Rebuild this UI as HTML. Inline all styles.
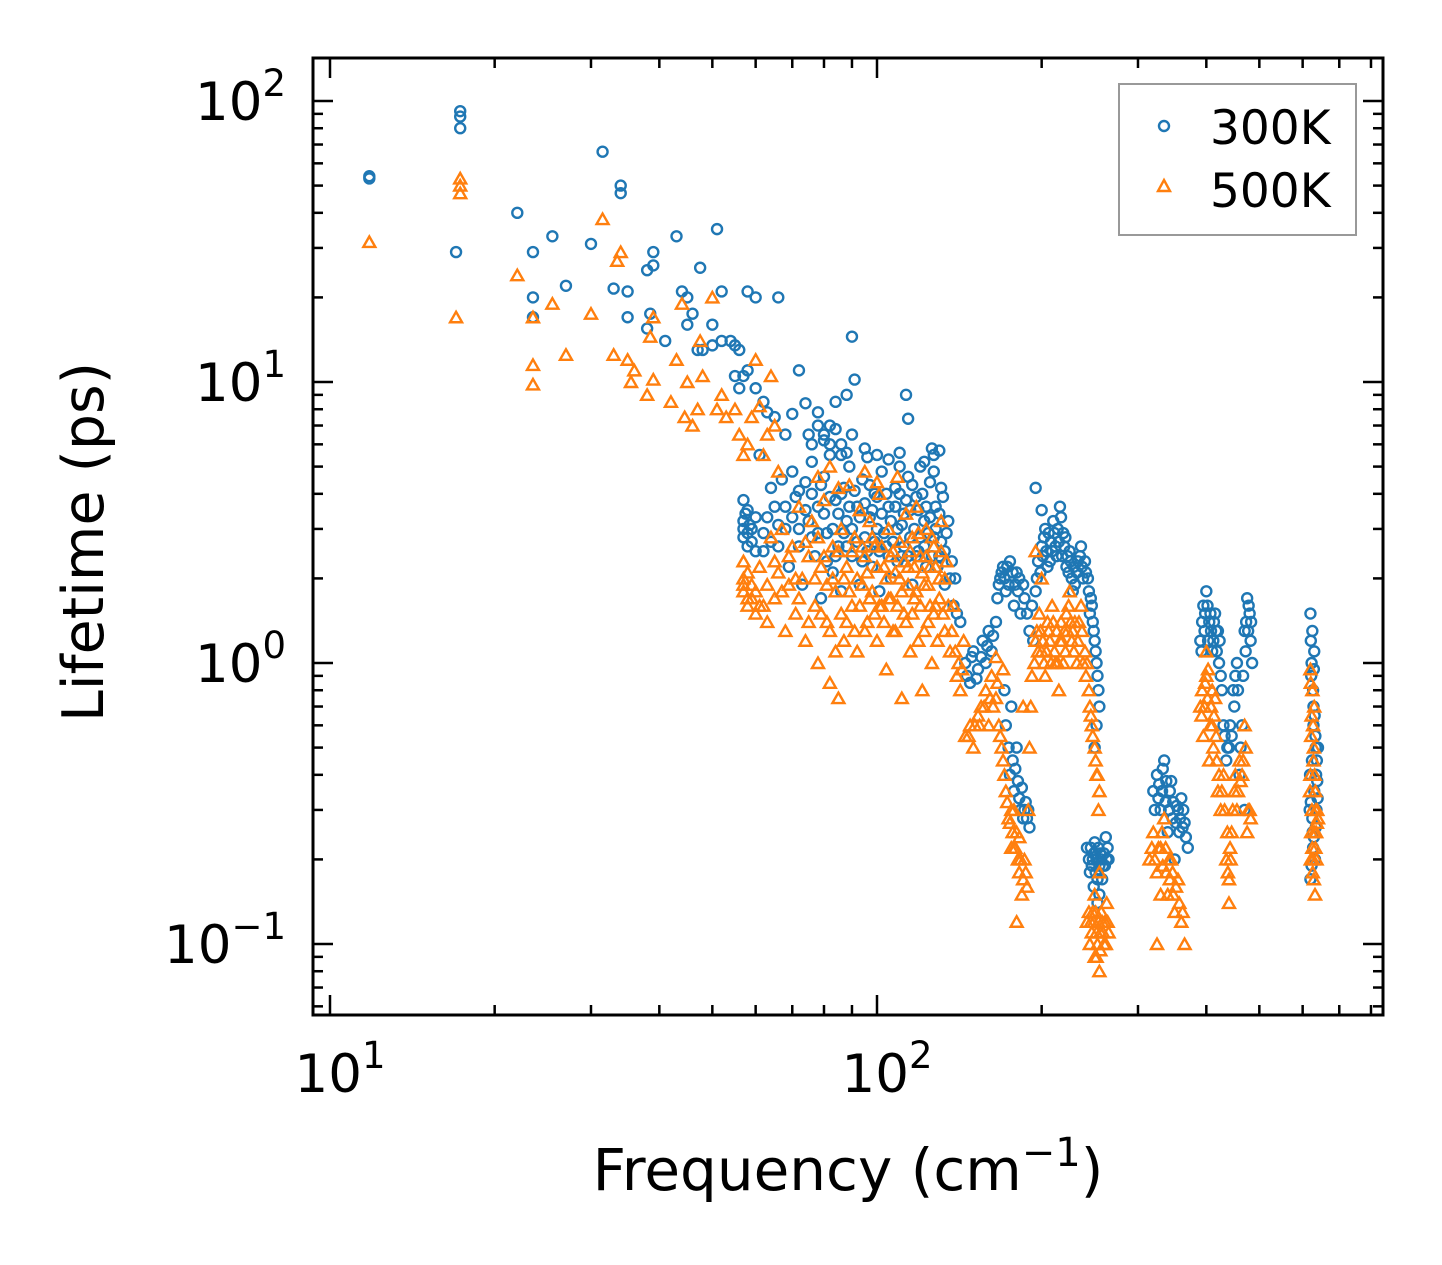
<!DOCTYPE html>
<html><head><meta charset="utf-8"><style>
html,body{margin:0;padding:0;background:#fff;}
svg{display:block;font-family:"DejaVu Sans","Liberation Sans",sans-serif;}
</style></head><body>
<svg id="chart" width="1442" height="1265" viewBox="0 0 1442 1265">
<rect width="1442" height="1265" fill="#fff"/>
<g id="marks"></g>
<g id="axes"></g>
<rect x="313" y="58" width="1070" height="957" fill="none" stroke="#000" stroke-width="3"/>
<text x="848" y="1190" font-size="58" text-anchor="middle">Frequency (cm<tspan dy="-24" font-size="40">−1</tspan><tspan dy="24">)</tspan></text>
<text transform="translate(103,542) rotate(-90)" font-size="57" text-anchor="middle">Lifetime (ps)</text>
<g>
<rect x="1119" y="84" width="237" height="151" fill="#fff" stroke="#999" stroke-width="2"/>
<circle cx="1164" cy="126" r="5" fill="none" stroke="#1f77b4" stroke-width="2.4"/>
<text x="1210" y="144" font-size="47">300K</text>
<path d="M1164,180 L1170,191 L1158,191 Z" fill="none" stroke="#ff7f0e" stroke-width="2.4"/>
<text x="1210" y="207" font-size="47">500K</text>
</g>
</svg>
<script>
const blue300K = [
[11.8,54],[11.8,53],[17.3,92],[17.3,88],[17.3,80],[17,29],[22,40],[23.5,29],[23.5,20],[23.5,17],[25.5,33],[27,22],[30,31],[31.5,66],[33,21.5],[34,47],[34,50],[35,21],[35,17],[38,25],[38.5,17.5],[39,29],[39,26],[38,15.5],[41,14],[43,33],[44,21],[45,20],[45,16],[46,17.5],[47,13],[47.5,25.5],[48,13],[50,13.5],[50,16],[51,35],[52,14],[52,21],[54,14],[55,13.5],[56,13],[55,10.5],[56,9.5],[57,10.5],[58,11],[60,9.5],[58,21],[60,20],[62,8.5],[63,7.8],[65,7.5],[66,20],[68,6.5],[70,7.7],[72,11],[74,8.4],[76,6],[78,7.8],[80,6.5],[82,6],[84,8.5],[86,5.5],[90,14.5],[91,10.2],[88,9],
[57,3.8],[57,3.2],[57,2.8],[58,3.5],[58,2.6],[59,3.0],[60,2.5],[61,5.5],[62,2.9],[63,3.3],[64,4.2],[65,3.6],[66,2.6],[67,4.5],[68,3.0],[69,2.2],[70,4.8],[71,3.9],[72,2.6],[73,1.9],[74,4.4],[75,3.2],[76,5.2],[77,2.4],[78,3.6],[79,1.7],[80,4.6],[81,2.9],[82,5.5],[83,2.1],[84,3.8],[85,2.6],[86,1.8],[87,4.2],[88,3.2],[89,5.0],[90,2.4],[92,3.6],[93,1.9],[94,4.5],[95,2.8],[96,5.4],[97,3.3],[98,2.2],[99,4.0],[100,3.0],[101,1.8],[102,4.8],[104,2.6],[105,3.6],[106,2.0],[108,4.2],[109,3.0],[110,5.6],[111,2.4],[112,3.4],[114,4.6],[115,2.8],[116,1.9],[118,3.9],[119,2.5],[120,5.0],[122,3.2],[123,2.2],[125,4.4],[126,5.8],[127,2.8],[128,3.6],[130,2.4],[131,4.2],[133,1.9],[134,2.9],[136,2.0],[138,1.6],[140,1.5],[142,1.4],
[57,3.0],[57.5,3.4],[58,2.9],[58.5,3.1],[59,2.7],[60,3.3],[62,2.5],[64,2.7],[66,3.1],[68,3.6],[70,3.3],[72,3.0],[72,4.1],[74,3.5],[76,2.8],[76,4.0],[78,2.9],[79,4.3],[80,3.4],[81,2.3],[82,3.9],[83,3.0],[84,2.4],[85,3.4],[86,4.0],[87,2.9],[88,2.6],[89,3.6],[90,3.0],[91,4.1],[92,2.7],[93,3.3],[94,2.3],[95,3.7],[96,2.5],[97,4.3],[98,3.5],[99,2.7],[100,3.9],[101,2.5],[102,3.4],[103,2.9],[104,4.0],[105,2.4],[106,3.2],[107,2.7],[108,3.6],[109,2.3],[110,4.0],[111,3.1],[112,2.6],[113,3.8],[114,2.4],[115,3.5],[116,4.3],[117,3.0],[118,2.4],[119,3.5],[120,2.8],[121,4.0],[122,2.6],[123,3.6],[124,2.9],[125,3.3],[126,2.4],[127,4.8],[128,3.0],[129,2.2],[130,3.4],[131,2.7],[132,3.9],[133,2.5],[135,3.2],[137,2.3],[139,2.0],
[75,6.5],[78,7],[80,6.2],[82,7],[84,6.8],[86,6],[88,5.6],[90,6.5],[95,5.8],[100,5.5],[105,5.3],[110,5.0],[113,9],[114,7.4],[122,5.2],[127,5.5],[130,5.7],
[145,1.0],[148,0.85],[150,1.1],[153,0.95],[156,1.2],[158,1.0],[160,1.3],[162,1.1],[165,1.4],[168,2.0],[170,2.2],[172,1.8],[175,2.3],[178,1.6],[180,2.1],[183,1.5],[186,1.7],[190,1.3],[193,1.2],[196,2.0],[200,2.6],[203,3.0],[205,2.2],[208,2.7],[210,3.2],[213,2.4],[216,3.6],[219,2.9],[222,2.2],[225,2.5],[228,1.8],[232,2.1],[236,2.6],[240,2.3],[243,2.0],[246,1.7],[248,1.4],[250,1.2],[252,1.0],[195,4.2],[200,3.5],
[146,0.9],[149,1.05],[152,0.88],[155,1.05],[159,1.15],[163,1.25],[166,1.7],[167,1.9],[169,2.1],[171,2.0],[173,2.2],[174,1.9],[177,2.1],[179,1.9],[181,1.8],[182,2.0],[185,1.9],[188,1.5],[192,1.6],[195,1.8],[197,2.3],[199,2.1],[201,2.4],[202,2.8],[204,2.5],[206,2.9],[207,2.3],[209,2.5],[211,2.9],[212,2.6],[214,3.0],[215,2.7],[217,3.3],[218,2.4],[220,2.6],[221,2.8],[223,2.4],[224,2.1],[226,2.3],[227,2.0],[229,2.2],[230,1.9],[233,2.3],[235,2.4],[237,2.2],[238,2.0],[241,2.1],[244,1.8],[245,1.5],[247,1.6],[249,1.3],[251,1.1],[253,0.9],[254,0.8],[255,0.7],
[175,0.4],[178,0.35],[180,0.5],[183,0.3],[185,0.28],[187,0.32],[190,0.26],[172,0.6],[176,0.7],[174,0.5],[177,0.45],[179,0.42],[181,0.38],[182,0.33],[184,0.36],[186,0.3],[188,0.28],[189,0.3],[171,0.8],
[242,0.22],[245,0.18],[248,0.2],[250,0.23],[253,0.17],[256,0.21],[259,0.19],[262,0.24],[265,0.2],[255,0.15],[250,0.5],[252,0.6],[244,0.2],[246,0.22],[247,0.19],[249,0.21],[251,0.18],[252,0.2],[254,0.22],[255,0.19],[257,0.2],[258,0.17],[260,0.21],[261,0.19],[263,0.2],[264,0.22],[249,0.16],[253,0.14],
[320,0.35],[325,0.4],[330,0.3],[335,0.45],[340,0.25],[345,0.38],[350,0.2],[355,0.3],[360,0.33],[365,0.27],[370,0.22],[322,0.3],[327,0.33],[328,0.37],[332,0.35],[333,0.42],[337,0.32],[338,0.38],[342,0.3],[343,0.35],[347,0.28],[348,0.32],[352,0.27],[353,0.31],[357,0.25],[358,0.28],[362,0.26],[363,0.3],[367,0.24],
[390,1.2],[395,1.6],[400,1.8],[405,1.4],[410,1.1],[415,1.5],[420,1.3],[425,0.9],[430,0.6],[435,0.45],[440,0.5],[450,0.7],[455,1.0],[460,0.4],[465,0.6],[470,1.3],[475,1.7],[480,1.5],[485,1.0],[470,0.3],
[392,1.1],[393,1.4],[397,1.3],[398,1.5],[402,1.6],[403,1.2],[407,1.5],[408,1.3],[412,1.2],[413,1.4],[417,1.3],[418,1.1],[422,1.0],[423,1.2],[427,0.8],[432,0.55],[437,0.5],[442,0.6],[445,0.55],[448,0.8],[452,0.9],[457,0.8],[462,0.5],[467,0.9],[472,1.1],[473,1.4],[477,1.3],[478,1.6],[482,1.2],[483,1.4],
[620,1.5],[625,1.3],[630,1.1],[622,0.9],[628,0.7],[633,0.55],[624,0.45],[630,0.35],[636,0.3],[626,0.25],[632,0.2],[620,0.17],[635,0.4],[640,0.5],[628,0.6],
[621,1.2],[623,1.0],[627,0.8],[629,0.95],[631,0.65],[634,0.5],[637,0.45],[638,0.38],[621,0.32],[625,0.28],[627,0.22],[634,0.26],[639,0.33],[623,0.19],[629,0.24],[619,0.4],[618,0.3]
];
const orange500K = [
[11.8,31.5],[17.3,53],[17.3,50],[17.3,47],[17,17],[22,24],[23.5,17],[23.5,11.5],[23.5,9.8],[25.5,19],[27,12.5],[30,17.5],[31.5,38],[33,12.5],[33.5,27],[34,29],[35,12],[35.5,10],[36,11],[38,9],[38.5,14.5],[39,10.2],[39,17],[42,8.5],[43,12],[44,19],[44.5,7.5],[45,10],[46,7],[47,8],[47.5,14],[48,10.5],[50,20],[51,8],[52,9],[53,7.5],[55,8],[56,6.5],[57,5.5],[58,6],[59,7.5],[60,12],[61,8.2],[62,5.5],[63,6.5],[64,10.5],[65,7],[66,4.8],
[57,2.3],[57,2.0],[57,1.8],[58,1.7],[58,1.6],[59,1.9],[60,1.5],[61,2.2],[62,1.6],[63,1.4],[64,2.8],[65,1.7],[66,2.1],[67,3.0],[68,1.3],[69,1.9],[70,2.6],[71,1.5],[72,3.6],[73,2.0],[74,1.2],[75,2.4],[76,3.2],[77,1.6],[78,1.0],[79,2.2],[80,3.8],[81,1.4],[82,0.85],[83,2.6],[84,1.8],[85,0.75],[86,3.0],[87,1.2],[88,2.2],[89,4.3],[90,1.6],[91,2.8],[92,1.1],[93,3.5],[94,1.9],[95,2.4],[96,1.4],[97,3.2],[98,1.8],[99,2.6],[100,1.2],[101,4.0],[102,1.6],[103,2.2],[104,0.95],[105,3.0],[106,1.7],[107,2.5],[108,1.3],[109,4.6],[110,2.0],[111,0.75],[112,1.5],[113,3.4],[114,2.2],[115,1.1],[116,2.8],[117,1.7],[118,3.6],[119,1.2],[120,2.4],[121,0.8],[122,1.9],[123,3.0],[124,1.4],[125,2.2],[126,1.0],[127,2.6],[128,1.6],[130,2.0],[131,3.2],[133,1.3],[134,2.3],[136,1.1],[138,1.6],[140,0.9],[142,0.8],[144,1.2],[78,4.6],[82,5.0],[85,4.2],[95,4.8],[100,4.4],
[57,1.9],[58,2.1],[59,1.7],[60,1.8],[61,1.6],[63,1.9],[65,2.3],[67,1.8],[69,2.4],[71,2.0],[72,1.7],[74,2.7],[75,1.4],[77,2.0],[78,2.8],[79,1.5],[80,2.4],[81,1.9],[82,1.3],[83,2.0],[84,1.1],[85,2.5],[86,1.5],[87,2.0],[88,1.4],[89,1.8],[90,2.5],[91,1.3],[92,2.0],[93,1.6],[94,2.6],[95,1.3],[96,2.1],[97,1.7],[98,2.8],[99,1.5],[100,2.2],[101,1.6],[102,2.6],[103,1.4],[104,2.0],[105,1.7],[106,2.4],[107,1.3],[108,2.1],[109,1.6],[110,2.7],[111,1.8],[112,2.3],[113,1.4],[114,1.9],[115,2.5],[116,1.5],[117,2.2],[118,1.8],[119,2.9],[120,1.6],[121,2.1],[122,1.3],[123,2.4],[124,1.9],[125,1.6],[126,2.8],[127,1.5],[128,2.2],[129,1.2],[130,1.7],[131,2.5],[132,1.5],[133,2.0],[135,1.6],[137,1.3],[139,1.1],[141,1.0],[143,0.95],
[145,0.55],[148,0.6],[150,0.5],[153,0.65],[155,0.7],[158,0.8],[160,0.6],[162,0.9],[165,0.75],[168,0.55],[170,0.45],[172,0.35],[174,0.28],[176,0.22],[178,0.3],[180,0.25],[182,0.18],[184,0.15],[186,0.2],[188,0.16],[180,0.12],[190,0.5],[192,0.9],[195,1.2],[198,1.5],[200,1.1],[203,0.9],[206,1.3],[209,1.6],[212,1.0],[215,0.8],[218,1.2],[222,1.5],[225,1.8],[228,1.3],[232,1.0],[236,1.6],[240,1.1],[244,0.8],[247,0.6],[250,0.5],[252,0.4],[255,0.35],[195,2.5],[200,2.0],[185,0.7],[170,0.95],[165,1.05],
[147,0.55],[151,0.6],[154,0.6],[157,0.7],[161,0.75],[163,0.7],[166,0.85],[167,0.6],[169,0.5],[171,0.4],[173,0.32],[175,0.27],[177,0.25],[179,0.22],[181,0.2],[183,0.2],[185,0.17],[187,0.18],[189,0.3],[176,0.3],[178,0.22],[182,0.24],[191,0.7],[194,1.0],[196,1.3],[197,1.1],[199,1.3],[201,1.2],[202,1.0],[204,1.1],[205,1.4],[207,1.2],[208,1.0],[210,1.4],[211,1.1],[213,1.3],[214,1.0],[216,1.2],[217,1.4],[219,1.0],[220,1.3],[221,1.1],[223,1.3],[224,1.6],[226,1.4],[227,1.2],[229,1.1],[230,1.4],[233,1.2],[234,1.4],[237,1.3],[238,1.0],[241,0.9],[242,1.0],[245,0.7],[246,0.65],[248,0.55],[251,0.45],[253,0.4],[254,0.3],
[242,0.12],[245,0.1],[248,0.13],[250,0.09],[252,0.11],[255,0.08],[258,0.12],[260,0.1],[263,0.14],[265,0.11],[250,0.15],[255,0.18],[244,0.13],[246,0.12],[247,0.11],[249,0.12],[251,0.13],[253,0.1],[254,0.12],[256,0.11],[257,0.13],[259,0.11],[261,0.12],[262,0.1],[264,0.12],[252,0.09],[256,0.095],
[315,0.2],[320,0.25],[325,0.18],[330,0.22],[335,0.28],[340,0.15],[345,0.2],[350,0.13],[355,0.17],[360,0.12],[365,0.1],[325,0.1],[330,0.15],[318,0.22],[322,0.2],[327,0.22],[332,0.25],[333,0.19],[337,0.22],[338,0.18],[342,0.2],[343,0.17],[347,0.18],[348,0.15],[352,0.16],[357,0.14],[362,0.13],
[390,0.7],[395,0.55],[400,0.9],[405,0.45],[410,0.6],[415,0.75],[420,0.35],[425,0.3],[430,0.4],[435,0.2],[440,0.17],[445,0.25],[450,0.35],[455,0.3],[460,0.45],[465,0.4],[470,0.6],[475,0.25],[480,0.3],[400,1.1],[410,0.8],[440,0.14],
[392,0.65],[393,0.8],[397,0.7],[398,0.85],[402,0.75],[403,0.95],[407,0.6],[408,0.7],[412,0.5],[413,0.65],[417,0.55],[418,0.45],[422,0.4],[427,0.35],[432,0.3],[437,0.25],[442,0.22],[447,0.3],[452,0.4],[457,0.35],[462,0.38],[467,0.45],[472,0.5],[477,0.3],[482,0.28],[438,0.18],[443,0.2],
[620,0.95],[625,0.8],[630,0.7],[622,0.55],[628,0.45],[633,0.35],[624,0.3],[630,0.25],[636,0.2],[626,0.18],[632,0.15],[620,0.4],[640,0.28],
[621,0.85],[623,0.65],[627,0.6],[629,0.5],[631,0.4],[634,0.3],[637,0.27],[619,0.35],[622,0.25],[625,0.22],[627,0.2],[629,0.17],[633,0.22],[635,0.25],[638,0.3],[621,0.2]
];
const xMajorExp = [1, 2];
const yMajorExp = [-1, 0, 1, 2];

const NS = "http://www.w3.org/2000/svg";
const L = 313, R = 1383, T = 58, B = 1015;
const xLogMin = 1 - 17/547, xLogMax = 1 + 1053/547;
const yLogMax = 2 + 43/281, yLogMin = -1 - 71/281;
function xs(f){ return L + (Math.log10(f) - xLogMin) / (xLogMax - xLogMin) * (R - L); }
function ys(v){ return T + (yLogMax - Math.log10(v)) / (yLogMax - yLogMin) * (B - T); }

const marks = document.getElementById('marks');
blue300K.forEach(p => {
  const c = document.createElementNS(NS, 'circle');
  c.setAttribute('cx', xs(p[0])); c.setAttribute('cy', ys(p[1])); c.setAttribute('r', 5);
  c.setAttribute('fill', 'none'); c.setAttribute('stroke', '#1f77b4'); c.setAttribute('stroke-width', 2.4);
  
  
  marks.appendChild(c);
});
orange500K.forEach(p => {
  const x = xs(p[0]), y = ys(p[1]);
  const t = document.createElementNS(NS, 'path');
  t.setAttribute('d', `M${x},${y-5.5} L${x+6},${y+5} L${x-6},${y+5} Z`);
  t.setAttribute('fill', 'none'); t.setAttribute('stroke', '#ff7f0e'); t.setAttribute('stroke-width', 2.4);
  
  
  marks.appendChild(t);
});

const axes = document.getElementById('axes');
function line(x1,y1,x2,y2,name){
  const l = document.createElementNS(NS,'line');
  l.setAttribute('x1',x1); l.setAttribute('y1',y1); l.setAttribute('x2',x2); l.setAttribute('y2',y2);
  l.setAttribute('stroke','#000'); l.setAttribute('stroke-width',2.5);
  
  
  axes.appendChild(l);
}
function label(x,y,exp,anchor,name){
  const t = document.createElementNS(NS,'text');
  t.setAttribute('x',x); t.setAttribute('y',y); t.setAttribute('font-size',53); t.setAttribute('text-anchor',anchor);
  t.innerHTML = '10<tspan dy="-24" font-size="37">' + (exp<0?'−'+(-exp):exp) + '</tspan>';
  
  
  axes.appendChild(t);
}
for (let e = 0; e <= 3; e++) for (let m = 1; m <= 9; m++) {
  const f = m * Math.pow(10, e); const x = xs(f);
  if (x < L + 1 || x > R - 1) continue;
  const len = m === 1 ? 20 : 10;
  line(x, B, x, B - len, 'x-tick');
  line(x, T, x, T + len, 'x-tick-top');
}
xMajorExp.forEach(e => label(xs(Math.pow(10,e)) + 10, 1092, e, 'middle', 'x-tick-label'));
for (let e = -2; e <= 2; e++) for (let m = 1; m <= 9; m++) {
  const v = m * Math.pow(10, e); const y = ys(v);
  if (y < T + 1 || y > B - 1) continue;
  const len = m === 1 ? 20 : 10;
  line(L, y, L + len, y, 'y-tick');
  line(R, y, R - len, y, 'y-tick-right');
}
yMajorExp.forEach(e => label(286, ys(Math.pow(10,e)) + 19, e, 'end', 'y-tick-label'));
</script>
</body></html>
